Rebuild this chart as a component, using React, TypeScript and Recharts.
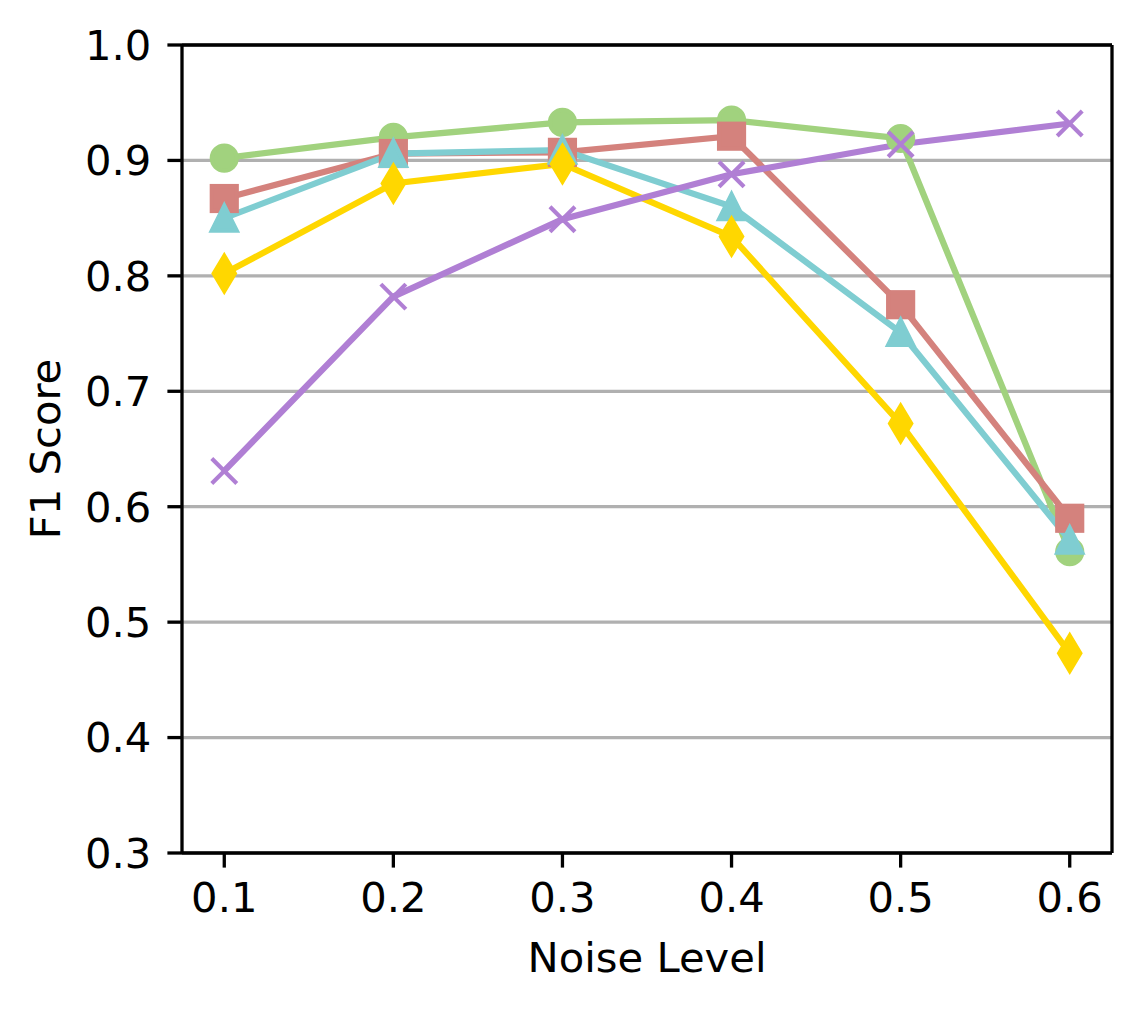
import React from 'react';
import { LineChart, Line, XAxis, YAxis, CartesianGrid, ReferenceLine, Label } from 'recharts';

const noiseLevels = [0.1, 0.2, 0.3, 0.4, 0.5, 0.6];
const circleSeries = [0.902, 0.920, 0.933, 0.935, 0.919, 0.561];
const squareSeries = [0.867, 0.906, 0.907, 0.921, 0.775, 0.590];
const triangleSeries = [0.850, 0.906, 0.909, 0.860, 0.751, 0.571];
const diamondSeries = [0.802, 0.880, 0.897, 0.834, 0.672, 0.473];
const crossSeries = [0.631, 0.782, 0.849, 0.888, 0.914, 0.932];
const xTicks = [0.1, 0.2, 0.3, 0.4, 0.5, 0.6];
const yTicks = [0.3, 0.4, 0.5, 0.6, 0.7, 0.8, 0.9, 1.0];

const COLORS = {
  circle: '#a1d27e',
  square: '#d4827d',
  triangle: '#7fcdd1',
  diamond: '#ffd700',
  cross: '#b07fd4',
};

const data = noiseLevels.map((n, i) => ({
  noise: n,
  circle: circleSeries[i],
  square: squareSeries[i],
  triangle: triangleSeries[i],
  diamond: diamondSeries[i],
  cross: crossSeries[i],
}));

const FONT = "'DejaVu Sans', sans-serif";
const FS = 41.7;
const EW = 4.17;

const makeDot = (kind: string, color: string) => (props: any) => {
  const { cx, cy, index } = props;
  const key = `${kind}-${index}`;
  if (cx == null || cy == null) return <g key={key} />;
  if (kind === 'circle') {
    return <circle key={key} cx={cx} cy={cy} r={12.5} fill={color} stroke={color} strokeWidth={EW} />;
  }
  if (kind === 'square') {
    return <rect key={key} x={cx - 12.5} y={cy - 12.5} width={25} height={25} fill={color} stroke={color} strokeWidth={EW} strokeLinejoin="miter" />;
  }
  if (kind === 'triangle') {
    const pts = `${cx},${cy - 12.5} ${cx - 12.5},${cy + 12.5} ${cx + 12.5},${cy + 12.5}`;
    return <polygon key={key} points={pts} fill={color} stroke={color} strokeWidth={EW} strokeLinejoin="miter" />;
  }
  if (kind === 'diamond') {
    const h = 17.7, w = 10.6;
    const pts = `${cx},${cy - h} ${cx + w},${cy} ${cx},${cy + h} ${cx - w},${cy}`;
    return <polygon key={key} points={pts} fill={color} stroke={color} strokeWidth={EW} strokeLinejoin="miter" />;
  }
  const s = 12.5;
  return (
    <g key={key}>
      <line x1={cx - s} y1={cy - s} x2={cx + s} y2={cy + s} stroke={color} strokeWidth={EW} />
      <line x1={cx - s} y1={cy + s} x2={cx + s} y2={cy - s} stroke={color} strokeWidth={EW} />
    </g>
  );
};

const series = ['circle', 'square', 'triangle', 'diamond', 'cross'] as const;

export default function App() {
  return (
    <div style={{ position: 'fixed', left: 0, top: 0, background: '#fff' }}>
      <LineChart width={1142} height={1009} data={data} margin={{ top: 45, right: 30, left: 0, bottom: 0 }}>
        <CartesianGrid vertical={false} stroke="#b0b0b0" strokeWidth={3.3} />
        <XAxis
          type="number"
          dataKey="noise"
          domain={[0.075, 0.625]}
          ticks={xTicks}
          allowDataOverflow
          height={156}
          tickFormatter={(v: number) => v.toFixed(1)}
          tick={{ fontFamily: FONT, fontSize: FS, fill: '#000' }}
          tickSize={14.6}
          tickMargin={15}
          axisLine={{ stroke: '#000', strokeWidth: 3.3 }}
          tickLine={{ stroke: '#000', strokeWidth: 3.3 }}
        >
          <Label
            content={(p: any) => {
              const vb = p.viewBox;
              return (
                <text x={vb.x + vb.width / 2} y={972} textAnchor="middle" fontFamily={FONT} fontSize={FS} fill="#000">
                  Noise Level
                </text>
              );
            }}
          />
        </XAxis>
        <YAxis
          type="number"
          domain={[0.3, 1.0]}
          ticks={yTicks}
          allowDataOverflow
          width={182}
          tickFormatter={(v: number) => v.toFixed(1)}
          tick={{ fontFamily: FONT, fontSize: FS, fill: '#000' }}
          tickSize={14.6}
          tickMargin={16}
          axisLine={{ stroke: '#000', strokeWidth: 3.3 }}
          tickLine={{ stroke: '#000', strokeWidth: 3.3 }}
        >
          <Label
            content={(p: any) => {
              const vb = p.viewBox;
              const cy = vb.y + vb.height / 2;
              return (
                <text x={60} y={cy} transform={`rotate(-90, 60, ${cy})`} textAnchor="middle" fontFamily={FONT} fontSize={FS} fill="#000">
                  F1 Score
                </text>
              );
            }}
          />
        </YAxis>
        <ReferenceLine y={1.0} stroke="#000" strokeWidth={3.3} />
        <ReferenceLine x={0.625} stroke="#000" strokeWidth={3.3} />
        {series.map((k) => (
          <Line
            key={k}
            type="linear"
            dataKey={k}
            stroke={COLORS[k]}
            strokeWidth={6.25}
            dot={makeDot(k, COLORS[k])}
            activeDot={false}
            isAnimationActive={false}
          />
        ))}
      </LineChart>
    </div>
  );
}
